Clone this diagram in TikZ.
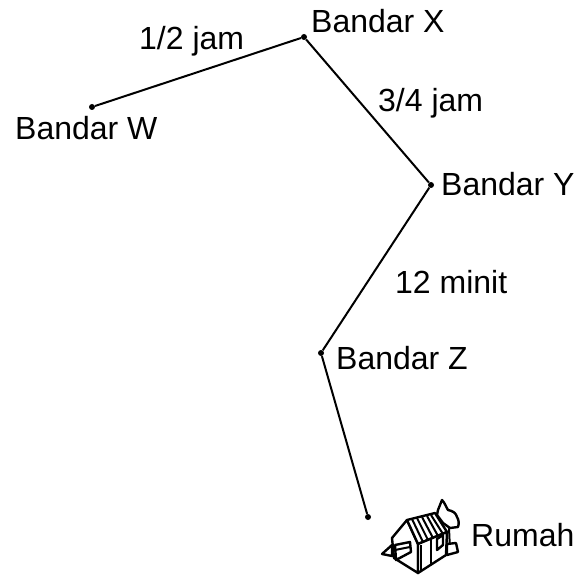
\documentclass[tikz,border=0pt]{standalone}
\usepackage{fontspec}
\setmainfont{Liberation Sans}
\tikzset{
  dot/.style={circle, fill=black, inner sep=0pt, minimum size=6pt},
  lbl/.style={inner sep=0pt, anchor=base west, font=\fontsize{32}{36}\selectfont},
  road/.style={line width=2pt},
  house/.style={line width=2.4pt, line join=round, fill=white},
  strip/.style={line width=2pt}
}
\begin{document}
\begin{tikzpicture}[x=1pt, y=-1pt]
\useasboundingbox (0,0) rectangle (579,575);
\node[dot] (w) at (92,107) {};
\node[dot] (x) at (304,37) {};
\node[dot] (y) at (431,185) {};
\node[dot] (z) at (321,353) {};
\node[dot] (r) at (368,517) {};
\draw[road] (w) -- (x) -- (y) -- (z) -- (r);
\node[lbl] (lw) at (15,140) {Bandar W};
\node[lbl] (lx) at (311,33) {Bandar X};
\node[lbl] (ly) at (441,196) {Bandar Y};
\node[lbl] (lz) at (336,369) {Bandar Z};
\node[lbl] (lr) at (471,546) {Rumah};
\node[lbl] (t1) at (139,50) {1/2 jam};
\node[lbl] (t2) at (378,112) {3/4 jam};
\node[lbl] (t3) at (395,294) {12 minit};
% rumah
\draw[house] (438,510) -- (442,500) .. controls (445,503) and (446,507) .. (448,510) .. controls (453,511) and (456,513) .. (457,517) .. controls (459,520) and (459,524) .. (458,527) -- (450,528) -- (443,523) -- (437,515) -- cycle;
\draw[strip] (449,528) -- (450,550);
\draw[house] (392,545) -- (382,554) -- (392,556) -- cycle;
\draw[house] (447,544) -- (456,543) -- (458,552) -- (447,555) -- cycle;
\draw[house] (392,538) -- (407,520) -- (418,544) -- (418,573) -- (394,558) -- cycle;
\draw[house] (407,520) -- (435,513) -- (447,532) -- (418,544) -- cycle;
\draw[house] (418,544) -- (447,532) -- (446,555) -- (418,573) -- cycle;
\draw[strip] (412,519) -- (423,542) (417,518) -- (428,540) (422,517) -- (433,538) (427,516) -- (438,536) (431,515) -- (443,534);
\draw[house] (395,545) -- (410,542) -- (411,552) -- (396,560) -- cycle;
\draw[strip] (395,550) -- (410,547);
\draw[house] (437,539) -- (443,535) -- (443,545) -- (437,550) -- cycle;
\draw[strip] (421,545) -- (421,571) (431,539) -- (431,565);
\end{tikzpicture}
\end{document}
